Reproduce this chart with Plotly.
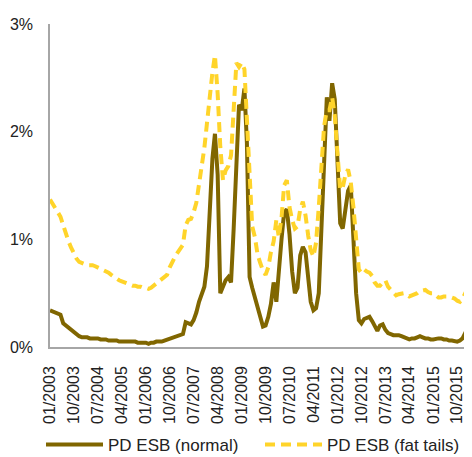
import pandas as pd
import plotly.graph_objects as go

# Monthly observations, 01/2003 - 03/2016 (values in %)
start_month = "2003-01-01"
n_months = 159

pd_normal = [
    0.34, 0.33, 0.32, 0.31, 0.30, 0.22, 0.20, 0.17, 0.15, 0.13,
    0.11, 0.10, 0.09, 0.09, 0.09, 0.08, 0.08, 0.08, 0.08, 0.07,
    0.07, 0.07, 0.06, 0.06, 0.06, 0.06, 0.05, 0.05, 0.05, 0.05,
    0.05, 0.05, 0.05, 0.04, 0.04, 0.04, 0.04, 0.03, 0.04, 0.04,
    0.05, 0.05, 0.05, 0.06, 0.07, 0.08, 0.09, 0.09, 0.10, 0.11,
    0.12, 0.23, 0.22, 0.21, 0.25, 0.32, 0.42, 0.50, 0.56, 0.75,
    1.25, 1.75, 1.98, 1.60, 0.50, 0.56, 0.62, 0.65, 0.60, 1.10,
    1.75, 2.25, 2.20, 2.40, 1.90, 0.65, 0.55, 0.45, 0.36, 0.26,
    0.19, 0.20, 0.28, 0.40, 0.60, 0.42, 0.75, 1.00, 1.25, 1.28,
    1.05, 0.70, 0.50, 0.55, 0.85, 0.93, 0.88, 0.62, 0.42, 0.34,
    0.36, 0.50, 1.15, 1.85, 2.32, 2.10, 2.45, 2.30, 1.80, 1.15,
    1.10, 1.28, 1.45, 1.50, 0.95, 0.50, 0.25, 0.22, 0.26, 0.27,
    0.28, 0.24, 0.20, 0.15, 0.20, 0.21, 0.16, 0.13, 0.12, 0.11,
    0.11, 0.11, 0.10, 0.09, 0.08, 0.07, 0.08, 0.08, 0.09, 0.10,
    0.09, 0.08, 0.08, 0.07, 0.07, 0.08, 0.08, 0.08, 0.07, 0.07,
    0.06, 0.06, 0.05, 0.05, 0.06, 0.08, 0.13, 0.12, 0.11,
]

pd_fat_tails = [
    1.37, 1.33, 1.29, 1.25, 1.21, 1.13, 1.05, 0.98, 0.92, 0.86,
    0.82, 0.79, 0.78, 0.77, 0.76, 0.76, 0.76, 0.75, 0.74, 0.73,
    0.72, 0.70, 0.69, 0.67, 0.65, 0.64, 0.62, 0.61, 0.60, 0.59,
    0.58, 0.57, 0.57, 0.56, 0.56, 0.55, 0.55, 0.54, 0.55, 0.57,
    0.59, 0.61, 0.63, 0.65, 0.67, 0.74, 0.80, 0.84, 0.88, 0.91,
    0.95, 1.13, 1.18, 1.19, 1.25, 1.34, 1.50, 1.68, 1.85, 2.08,
    2.36, 2.55, 2.71, 2.35, 1.86, 1.55, 1.64, 1.68, 1.78, 2.30,
    2.64, 2.60, 2.64, 2.58, 2.10, 1.45, 1.12, 1.02, 0.86, 0.78,
    0.71, 0.67, 0.74, 0.88, 0.98, 1.18, 1.02, 1.20, 1.50, 1.55,
    1.30, 1.18, 1.10, 1.12, 1.28, 1.35, 1.22, 1.03, 0.90, 0.84,
    0.97, 1.30, 1.70, 2.05, 2.20, 2.20, 2.32, 2.15, 1.80, 1.46,
    1.48, 1.60, 1.65, 1.53, 1.30, 0.95, 0.72, 0.69, 0.72, 0.70,
    0.69, 0.66, 0.60, 0.57, 0.57, 0.60, 0.62, 0.56, 0.53, 0.50,
    0.48, 0.49, 0.50, 0.50, 0.49, 0.47, 0.48, 0.49, 0.50, 0.52,
    0.53, 0.53, 0.51, 0.50, 0.50, 0.48, 0.46, 0.46, 0.47, 0.47,
    0.46, 0.46, 0.45, 0.43, 0.42, 0.45, 0.50, 0.55, 0.56,
]

series_names = ["PD ESB (normal)", "PD ESB (fat tails)"]
y_ticks = [0, 1, 2, 3]
y_tick_labels = ["0%", "1%", "2%", "3%"]

dates = pd.date_range(start_month, periods=n_months, freq="MS")
tick_dates = dates[::9]
tick_labels = [d.strftime("%m/%Y") for d in tick_dates]

FONT = "Liberation Sans, Arial, sans-serif"
W, H = 464, 449  # page body has an 8px margin

fig = go.Figure()
fig.add_trace(go.Scatter(
    x=dates, y=pd_normal, mode="lines", name=series_names[0],
    line=dict(color="#806600", width=4), legend="legend",
))
fig.add_trace(go.Scatter(
    x=dates, y=pd_fat_tails, mode="lines", name=series_names[1],
    line=dict(color="#FFD42A", width=4, dash="10px,6px"), legend="legend2",
))

legend_common = dict(
    orientation="h", xref="container", yref="container",
    xanchor="left", yanchor="middle", y=(H - 437) / H,
    font=dict(family=FONT, size=17, color="#222222"),
    itemwidth=57, bgcolor="rgba(0,0,0,0)",
)

fig.update_layout(
    width=W, height=H,
    margin=dict(l=42, r=0, t=16, b=110, autoexpand=False),
    paper_bgcolor="white", plot_bgcolor="white",
    font=dict(family=FONT, size=15, color="#222222"),
    showlegend=True,
    legend=dict(x=33 / W, **legend_common),
    legend2=dict(x=252 / W, **legend_common),
)
fig.update_xaxes(
    range=[dates[0], pd.Timestamp("2016-03-18")],
    tickmode="array", tickvals=tick_dates, ticktext=tick_labels,
    tickangle=-90, tickfont=dict(size=16, color="#222222"),
    showline=True, linecolor="#A6A6A6", linewidth=1.5,
    showgrid=False, zeroline=False, ticks="", ticklabelstandoff=11,
    automargin=False,
)
fig.update_yaxes(
    range=[0, 3], tickmode="array", tickvals=y_ticks, ticktext=y_tick_labels,
    tickfont=dict(size=16, color="#222222"),
    showline=True, linecolor="#A6A6A6", linewidth=1.5,
    showgrid=False, zeroline=False, ticks="", ticklabelstandoff=12,
    automargin=False,
)

fig.write_html("out.html")
